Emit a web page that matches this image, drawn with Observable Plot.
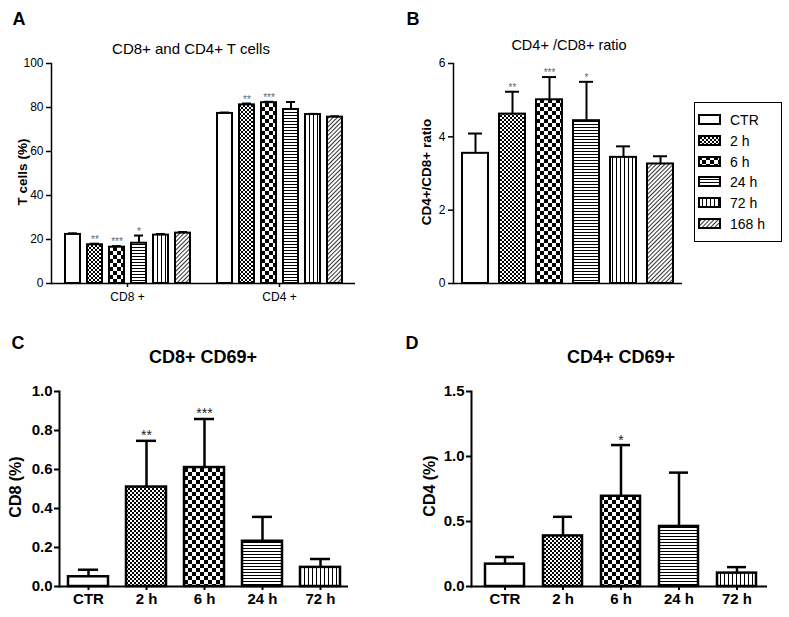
<!DOCTYPE html>
<html><head><meta charset="utf-8">
<script src="https://cdn.jsdelivr.net/npm/d3@7"></script>
<script src="https://cdn.jsdelivr.net/npm/@observablehq/plot@0.6"></script>
<style>
body{margin:0;background:#fff;font-family:"Liberation Sans",Arial,sans-serif;color:#000}
#root{position:relative;width:789px;height:617px;overflow:hidden;background:#fff}
.abs{position:absolute;white-space:nowrap;line-height:1}
.panel{position:absolute}
.panel svg{overflow:visible}
</style></head><body>
<svg width="0" height="0" style="position:absolute">
<defs>
<pattern id="patCTR" width="4" height="4" patternUnits="userSpaceOnUse"><rect width="4" height="4" fill="#fff"/></pattern>
<pattern id="pat2" width="4" height="4" patternUnits="userSpaceOnUse"><rect width="4" height="4" fill="#fff"/><rect width="2" height="2" fill="#000"/><rect x="2" y="2" width="2" height="2" fill="#000"/></pattern>
<pattern id="pat6" width="8" height="8" patternUnits="userSpaceOnUse"><rect width="8" height="8" fill="#fff"/><rect width="4" height="4" fill="#000"/><rect x="4" y="4" width="4" height="4" fill="#000"/></pattern>
<pattern id="pat24" width="4" height="3" patternUnits="userSpaceOnUse"><rect width="4" height="3" fill="#fff"/><rect width="4" height="1" fill="#000"/></pattern>
<pattern id="pat72" width="4" height="4" patternUnits="userSpaceOnUse"><rect width="4" height="4" fill="#fff"/><rect width="1" height="4" fill="#000"/></pattern>
<pattern id="pat168" width="3" height="3" patternUnits="userSpaceOnUse" patternTransform="rotate(45)"><rect width="3" height="3" fill="#fff"/><rect width="1" height="3" fill="#333"/></pattern>
</defs></svg>
<div id="root"></div>
<script>
// ---------- data ----------
const times = ["CTR", "2 h", "6 h", "24 h", "72 h", "168 h"];
const timesCD69 = ["CTR", "2 h", "6 h", "24 h", "72 h"];
const groupsA = ["CD8 +", "CD4 +"];
const patternIds = ["patCTR", "pat2", "pat6", "pat24", "pat72", "pat168"];

const cd8Pct = [22.3, 17.6, 16.5, 18.3, 22.0, 22.9];
const cd8PctErr = [0.5, 0.5, 0.5, 3.5, 0.5, 0.5];
const cd8PctSig = ["", "**", "***", "*", "", ""];
const cd4Pct = [77.3, 81.2, 82.2, 79.1, 76.8, 75.6];
const cd4PctErr = [0.4, 0.6, 0.4, 3.4, 0.3, 0.4];
const cd4PctSig = ["", "**", "***", "", "", ""];

const ratio = [3.55, 4.62, 5.01, 4.44, 3.44, 3.26];
const ratioErr = [0.54, 0.61, 0.62, 1.06, 0.30, 0.21];
const ratioSig = ["", "**", "***", "*", "", ""];

const cd8cd69 = [0.05, 0.51, 0.61, 0.232, 0.098];
const cd8cd69Err = [0.036, 0.237, 0.249, 0.125, 0.043];
const cd8cd69Sig = ["", "**", "***", "", ""];

const cd4cd69 = [0.172, 0.389, 0.694, 0.462, 0.103];
const cd4cd69Err = [0.055, 0.147, 0.394, 0.414, 0.046];
const cd4cd69Sig = ["", "", "*", "", ""];

const yTicksA = [0, 20, 40, 60, 80, 100];
const yTicksB = [0, 2, 4, 6];
const yTicksC = [0, 0.2, 0.4, 0.6, 0.8, 1.0];
const yTicksD = [0, 0.5, 1.0, 1.5];

// ---------- helpers ----------
const FONT = '"Liberation Sans", Arial, sans-serif';
const root = document.getElementById("root");
const fillOf = t => `url(#${patternIds[times.indexOf(t)]})`;
function rows(cats, vals, errs, sigs, extra = {}) {
  return cats.map((t, i) => ({time: t, value: vals[i], hi: vals[i] + errs[i], sig: sigs[i], ...extra}));
}
function place(el, left, top) {
  const d = document.createElement("div");
  d.className = "panel"; d.style.left = left + "px"; d.style.top = top + "px";
  d.appendChild(el); root.appendChild(d);
}
function label(text, cx, cy, css, rotate = false) {
  const d = document.createElement("div");
  d.className = "abs"; d.textContent = text;
  d.style.left = cx + "px"; d.style.top = cy + "px";
  d.style.transform = "translate(-50%,-50%)" + (rotate ? " rotate(-90deg)" : "");
  Object.assign(d.style, css);
  root.appendChild(d);
}

// ---------- Panel A ----------
const dataA = [
  ...rows(times, cd8Pct, cd8PctErr, cd8PctSig, {group: groupsA[0]}),
  ...rows(times, cd4Pct, cd4PctErr, cd4PctSig, {group: groupsA[1]})
];
const plotA = Plot.plot({
  width: 370, height: 250, marginLeft: 50, marginRight: 15, marginTop: 8, marginBottom: 22,
  style: {fontFamily: FONT, fontSize: "12px", background: "transparent", overflow: "visible"},
  fx: {domain: groupsA, padding: 0, label: null},
  x: {domain: times, paddingInner: 0.34, paddingOuter: 0.54, axis: null},
  y: {domain: [0, 100]},
  color: {type: "identity"},
  marks: [
    Plot.ruleX(dataA, {fx: "group", x: "time", y1: "value", y2: "hi", strokeWidth: 2}),
    Plot.tickY(dataA, {fx: "group", x: "time", y: "hi", strokeWidth: 2, insetLeft: 3, insetRight: 3}),
    Plot.barY(dataA, {fx: "group", x: "time", y: "value", fill: d => fillOf(d.time), stroke: "#000", strokeWidth: 2}),
    Plot.text(dataA, {fx: "group", x: "time", y: "hi", text: "sig", dy: -4, fontSize: 10, fill: "#666"}),
    Plot.ruleY([0], {strokeWidth: 1.5}),
    Plot.frame({anchor: "left", facetAnchor: "left", strokeWidth: 1.5}),
    Plot.axisY({ticks: yTicksA, tickSize: 5, tickPadding: 3, label: null, strokeWidth: 1.5}),
    Plot.axisFx({anchor: "bottom", tickSize: 4, tickPadding: 5, label: null, strokeWidth: 1.5})
  ]
});
place(plotA, 0, 55);

// ---------- Panel B ----------
const dataB = rows(times, ratio, ratioErr, ratioSig);
const plotB = Plot.plot({
  width: 290, height: 250, marginLeft: 53, marginRight: 8, marginTop: 8, marginBottom: 22,
  style: {fontFamily: FONT, fontSize: "12px", background: "transparent", overflow: "visible"},
  x: {domain: times, paddingInner: 0.3, paddingOuter: 0.18, axis: null},
  y: {domain: [0, 6]},
  color: {type: "identity"},
  marks: [
    Plot.ruleX(dataB, {x: "time", y1: "value", y2: "hi", strokeWidth: 2}),
    Plot.tickY(dataB, {x: "time", y: "hi", strokeWidth: 2, insetLeft: 6, insetRight: 6}),
    Plot.barY(dataB, {x: "time", y: "value", fill: d => fillOf(d.time), stroke: "#000", strokeWidth: 2}),
    Plot.text(dataB, {x: "time", y: "hi", text: "sig", dy: -4, fontSize: 10, fill: "#666"}),
    Plot.ruleY([0], {strokeWidth: 1.5}),
    Plot.frame({anchor: "left", strokeWidth: 1.5}),
    Plot.axisY({ticks: yTicksB, tickFormat: d3.format("d"), tickSize: 5, tickPadding: 3, label: null, strokeWidth: 1.5})
  ]
});
place(plotB, 400, 55);

// ---------- Panels C & D ----------
function cd69Plot(data, yMax, yTicks, opts) {
  return Plot.plot({
    width: 360, height: 236, marginLeft: opts.ml, marginRight: opts.mr, marginTop: 11, marginBottom: 30,
    style: {fontFamily: FONT, fontSize: "15px", fontWeight: "bold", background: "transparent", overflow: "visible"},
    x: {domain: timesCD69, paddingInner: opts.pin, paddingOuter: opts.pout, align: opts.align},
    y: {domain: [0, yMax]},
    color: {type: "identity"},
    marks: [
      Plot.ruleX(data, {x: "time", y1: "value", y2: "hi", strokeWidth: 2.5}),
      Plot.tickY(data, {x: "time", y: "hi", strokeWidth: 2.5, insetLeft: 10, insetRight: 10}),
      Plot.barY(data, {x: "time", y: "value", fill: d => fillOf(d.time), stroke: "#000", strokeWidth: 2.5}),
      Plot.text(data, {x: "time", y: "hi", text: "sig", dy: -5, fontSize: 14, fontWeight: "normal", fill: "#222"}),
      Plot.ruleY([0], {strokeWidth: 2}),
      Plot.frame({anchor: "left", strokeWidth: 2}),
      Plot.axisY({ticks: yTicks, tickFormat: d3.format(".1f"), tickSize: 5, tickPadding: 2, label: null, strokeWidth: 2}),
      Plot.axisX({tickSize: 4, tickPadding: 3, label: null, strokeWidth: 2})
    ]
  });
}
place(cd69Plot(rows(timesCD69, cd8cd69, cd8cd69Err, cd8cd69Sig), 1.0, yTicksC, {ml: 59, mr: 12, pin: 0.313, pout: 0.137, align: 0.5}), 0, 380);
place(cd69Plot(rows(timesCD69, cd4cd69, cd4cd69Err, cd4cd69Sig), 1.5, yTicksD, {ml: 51, mr: 13, pin: 0.32, pout: 0.18, align: 0.57}), 420, 380);

// ---------- text ----------
const letterCss = {fontSize: "18px", fontWeight: "bold"};
label("A", 19, 19, letterCss);
label("B", 413, 19, letterCss);
label("C", 18, 343, letterCss);
label("D", 412, 343, letterCss);
label("CD8+ and CD4+ T cells", 191, 48, {fontSize: "15px"});
label("CD4+ /CD8+ ratio", 569, 45, {fontSize: "14.5px"});
label("CD8+ CD69+", 203, 357, {fontSize: "18px", fontWeight: "bold"});
label("CD4+ CD69+", 621, 357, {fontSize: "18px", fontWeight: "bold"});
label("T cells (%)", 23, 172, {fontSize: "13.5px", fontWeight: "bold"}, true);
label("CD4+/CD8+ ratio", 427, 172, {fontSize: "13.5px", fontWeight: "bold"}, true);
label("CD8 (%)", 16, 487, {fontSize: "16px", fontWeight: "bold"}, true);
label("CD4 (%)", 430, 486, {fontSize: "16px", fontWeight: "bold"}, true);

// ---------- legend ----------
const lg = document.createElement("div");
lg.className = "abs";
Object.assign(lg.style, {left: "694px", top: "102px", width: "88px", height: "140px", border: "1px solid #000", boxSizing: "border-box", background: "#fff"});
times.forEach((t, i) => {
  const row = document.createElement("div");
  row.className = "abs";
  Object.assign(row.style, {left: "3px", top: (9 + i * 20.8) + "px", height: "16px", display: "flex", alignItems: "center"});
  row.innerHTML = `<svg width="24" height="12" style="overflow:visible"><rect x="1" y="1" width="21" height="9" fill="url(#${patternIds[i]})" stroke="#000" stroke-width="2"/></svg><span style="font-size:14px;margin-left:8px">${t}</span>`;
  lg.appendChild(row);
});
root.appendChild(lg);
</script>
</body></html>
